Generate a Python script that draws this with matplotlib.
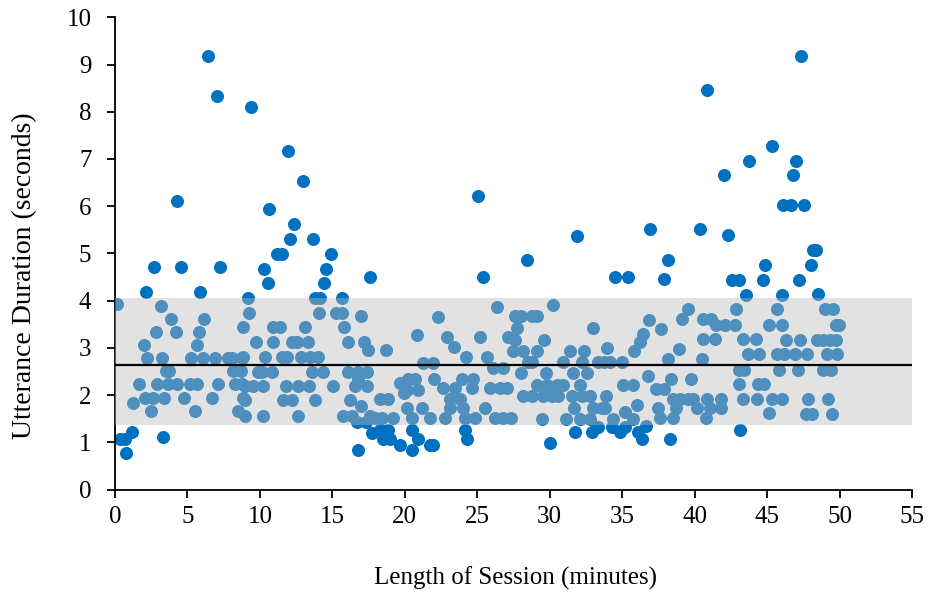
import matplotlib
matplotlib.use("Agg")
import matplotlib.pyplot as plt

# Data (menit sesi, durasi ujaran dalam detik)
menit = [
    6.44, 7.02, 4.29, 2.71, 4.55, 7.25, 2.14, 5.87, 0.11, 3.17, 3.87, 6.12,
    2.80, 4.19, 5.80, 2.03, 5.68, 2.23, 3.27, 5.26, 6.05, 6.90, 7.82, 8.05,
    8.74, 3.55, 3.75, 8.16, 8.70, 1.68, 2.88, 3.68, 4.26, 5.18, 5.64, 7.13,
    8.28, 8.74, 1.22, 2.07, 2.64, 3.40, 4.73, 6.67, 8.85, 2.48, 5.52, 8.51,
    1.15, 0.35, 0.69, 0.76, 3.34,
    9.36, 11.96, 13.00, 10.65, 12.38, 12.08, 13.64, 11.16, 11.50, 14.91,
    10.31, 14.56, 10.59, 14.45, 17.60, 9.20, 13.80, 14.15, 15.65, 9.27,
    14.08, 15.25, 15.65, 17.00, 8.81, 10.93, 11.39, 13.11, 15.83, 9.73,
    10.88, 12.19, 12.54, 13.30, 16.10, 17.18, 17.48, 8.86, 10.35, 11.50,
    11.85, 12.84, 13.46, 14.03, 9.89, 10.12, 10.81, 13.57, 14.33, 16.06,
    16.79, 17.37, 16.79, 8.97, 9.54, 10.23, 11.80, 12.65, 13.41, 15.02,
    16.56, 17.37, 8.97, 11.62, 12.19, 13.80, 16.22, 16.97, 8.97, 10.23,
    12.65, 15.76, 16.33, 17.60, 16.68, 17.33, 17.71, 16.79,
    25.07, 25.42, 26.38, 22.31, 20.82, 22.93, 23.40, 25.19, 27.10, 18.68,
    24.20, 25.69, 21.28, 21.97, 26.11, 26.80, 22.04, 23.92, 24.73, 19.67,
    20.24, 20.70, 20.13, 20.93, 19.97, 22.66, 23.46, 24.62, 25.88, 26.57,
    27.03, 18.29, 18.86, 23.12, 23.81, 20.13, 21.17, 23.12, 24.04, 25.54,
    17.94, 18.40, 19.21, 20.47, 21.74, 22.77, 24.15, 24.84, 26.22, 26.80,
    27.30, 18.29, 18.86, 20.47, 24.15, 18.52, 18.98, 20.93, 24.27, 19.67,
    20.47, 21.74, 21.95,
    31.90, 28.45, 36.90, 34.51, 35.43, 30.20, 27.60, 28.00, 28.76, 29.10,
    27.76, 33.00, 36.85, 27.60, 29.63, 36.46, 36.23, 27.49, 28.18, 29.15,
    31.40, 32.37, 33.98, 35.82, 28.52, 28.76, 30.94, 32.20, 33.35, 33.76,
    34.16, 35.00, 28.02, 29.74, 31.63, 32.55, 36.75, 29.10, 29.79, 30.48,
    30.94, 32.09, 35.08, 35.77, 28.18, 28.76, 29.56, 30.14, 30.59, 31.52,
    32.20, 32.78, 33.88, 36.00, 31.70, 33.00, 33.58, 33.81, 35.20, 29.45,
    31.10, 32.09, 32.78, 34.39, 35.77, 33.35, 34.27, 35.20, 36.64, 31.75,
    32.90, 34.85, 36.11, 36.40, 30.02,
    40.86, 45.32, 43.75, 42.00, 46.12, 40.40, 42.33, 38.19, 37.89, 44.86,
    42.60, 43.06, 44.70, 43.52, 46.00, 39.57, 42.86, 45.70, 39.16, 40.60,
    41.13, 41.50, 42.10, 42.79, 45.13, 46.00, 37.68, 40.60, 41.40, 43.36,
    44.24, 46.30, 38.94, 43.67, 44.47, 45.67, 46.18, 38.14, 40.54, 43.06,
    43.40, 45.85, 38.35, 39.73, 43.09, 44.40, 44.81, 37.30, 37.88, 38.53,
    39.00, 39.57, 39.91, 40.84, 41.83, 43.36, 44.28, 45.32, 46.00, 37.48,
    38.68, 40.13, 41.03, 41.79, 45.13, 37.61, 38.53, 40.79, 43.13, 38.30,
    47.34, 47.00, 46.77, 46.65, 47.57, 48.19, 48.38, 48.03, 47.20, 48.53,
    49.00, 49.57, 49.76, 49.99, 47.27, 48.47, 48.84, 49.34, 49.76, 46.93,
    47.78, 49.11, 49.80, 47.16, 48.84, 49.41, 47.85, 49.18, 47.69, 48.08,
    49.46,
]
durasi = [
    9.17, 8.33, 6.10, 4.72, 4.72, 4.72, 4.18, 4.18, 3.92, 3.89, 3.62, 3.62,
    3.33, 3.33, 3.33, 3.06, 3.06, 2.78, 2.78, 2.78, 2.78, 2.78, 2.78, 2.78,
    2.78, 2.50, 2.50, 2.50, 2.50, 2.23, 2.23, 2.23, 2.23, 2.23, 2.23, 2.23,
    2.23, 2.23, 1.83, 1.94, 1.94, 1.94, 1.94, 1.94, 1.94, 1.67, 1.67, 1.67,
    1.21, 1.07, 1.07, 0.77, 1.12,
    8.11, 7.17, 6.54, 5.93, 5.62, 5.30, 5.30, 4.99, 4.99, 4.99,
    4.68, 4.68, 4.37, 4.37, 4.49, 4.06, 4.06, 4.06, 4.06, 3.74,
    3.74, 3.74, 3.74, 3.67, 3.45, 3.45, 3.45, 3.45, 3.45, 3.13,
    3.13, 3.13, 3.13, 3.13, 3.13, 3.12, 2.95, 2.81, 2.81, 2.81,
    2.81, 2.81, 2.81, 2.81, 2.49, 2.49, 2.49, 2.49, 2.49, 2.49,
    2.49, 2.49, 2.35, 2.19, 2.19, 2.19, 2.19, 2.19, 2.19, 2.19,
    2.19, 2.19, 1.90, 1.90, 1.90, 1.90, 1.90, 1.77, 1.56, 1.56,
    1.56, 1.56, 1.56, 1.56, 1.44, 1.44, 1.19, 0.84,
    6.22, 4.51, 3.87, 3.66, 3.27, 3.24, 3.01, 3.24, 3.24, 2.95,
    2.80, 2.80, 2.68, 2.68, 2.57, 2.57, 2.35, 2.35, 2.35, 2.26,
    2.35, 2.35, 2.11, 2.11, 2.04, 2.14, 2.14, 2.14, 2.14, 2.14,
    2.14, 1.92, 1.92, 1.92, 1.92, 1.72, 1.72, 1.72, 1.72, 1.72,
    1.51, 1.51, 1.51, 1.51, 1.51, 1.51, 1.51, 1.51, 1.51, 1.51,
    1.51, 1.26, 1.26, 1.26, 1.26, 1.08, 1.08, 1.08, 1.08, 0.94,
    0.84, 0.94, 0.94,
    5.37, 4.87, 5.51, 4.49, 4.49, 3.91, 3.67, 3.67, 3.67, 3.67,
    3.41, 3.41, 3.60, 3.17, 3.17, 3.29, 3.13, 2.93, 2.93, 2.93,
    2.93, 2.93, 3.00, 2.93, 2.71, 2.71, 2.71, 2.71, 2.71, 2.71,
    2.71, 2.71, 2.46, 2.46, 2.46, 2.46, 2.40, 2.21, 2.21, 2.21,
    2.21, 2.21, 2.21, 2.21, 1.97, 1.97, 1.97, 1.97, 1.97, 1.97,
    1.97, 1.97, 1.97, 1.79, 1.72, 1.72, 1.72, 1.72, 1.65, 1.49,
    1.49, 1.49, 1.49, 1.49, 1.49, 1.33, 1.33, 1.33, 1.35, 1.21,
    1.21, 1.21, 1.21, 1.08, 0.98,
    8.47, 7.27, 6.96, 6.65, 6.02, 5.51, 5.39, 4.87, 4.45, 4.75,
    4.44, 4.44, 4.44, 4.12, 4.12, 3.82, 3.82, 3.82, 3.61, 3.61,
    3.61, 3.48, 3.48, 3.48, 3.48, 3.48, 3.40, 3.18, 3.18, 3.18,
    3.18, 3.17, 2.97, 2.86, 2.86, 2.86, 2.86, 2.76, 2.76, 2.53,
    2.53, 2.53, 2.33, 2.33, 2.23, 2.23, 2.23, 2.12, 2.12, 1.91,
    1.91, 1.91, 1.91, 1.91, 1.91, 1.91, 1.91, 1.91, 1.91, 1.72,
    1.72, 1.72, 1.72, 1.72, 1.61, 1.51, 1.51, 1.51, 1.27, 1.07,
    9.17, 6.96, 6.65, 6.02, 6.02, 5.07, 5.07, 4.75, 4.44, 4.13,
    3.82, 3.82, 3.49, 3.49, 3.17, 3.17, 3.17, 3.17, 3.17, 2.86,
    2.86, 2.86, 2.86, 2.53, 2.53, 2.53, 1.91, 1.91, 1.59, 1.59,
    1.59,
]

rata_rata = 2.64          # garis rata-rata
batas_bawah = 1.37        # pita abu-abu (rata-rata +/- SD)
batas_atas = 4.06

plt.rcParams['font.family'] = ['Liberation Serif', 'DejaVu Serif']

fig = plt.figure(figsize=(9.29, 5.94), dpi=100)
ax = fig.add_axes([0.1238, 0.1759, 0.8579, 0.7950])

ax.scatter(menit, durasi, s=88, color='#0070c0', linewidths=0, zorder=2)
# pita abu-abu di atas titik, agak transparan
ax.axhspan(batas_bawah, batas_atas, color='#bcbcbc', alpha=0.42, linewidth=0, zorder=3)
ax.axhline(rata_rata, color='black', linewidth=1.6, zorder=4)

ax.set_xlim(0, 55)
ax.set_ylim(0, 10)
ax.set_xticks(range(0, 56, 5))
ax.set_yticks(range(0, 11))
ax.spines['top'].set_visible(False)
ax.spines['right'].set_visible(False)
ax.spines['left'].set_linewidth(1.3)
ax.spines['bottom'].set_linewidth(1.3)
ax.tick_params(direction='out', length=6, width=1.3, labelsize=18)
ax.tick_params(axis='x', pad=6)
ax.tick_params(axis='y', pad=11)

ax.set_xlabel('Length of Session (minutes)', fontsize=18, va='center')
ax.set_ylabel('Utterance Duration (seconds)', fontsize=20, va='center')
ax.xaxis.set_label_coords(0.502, -0.187)
ax.yaxis.set_label_coords(-0.113, 0.452)

fig.savefig('out.png', dpi=100)
